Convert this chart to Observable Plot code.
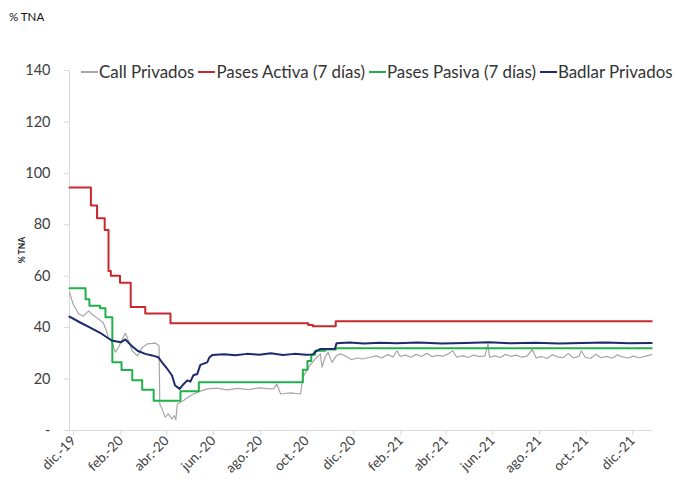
<!DOCTYPE html>
<html>
<head>
<meta charset="utf-8">
<script src="https://cdn.jsdelivr.net/npm/d3@7"></script>
<script src="https://cdn.jsdelivr.net/npm/@observablehq/plot@0.6"></script>
<style>
  html, body { margin: 0; padding: 0; background: #fff; }
  #wrap { position: relative; width: 677px; height: 491px; overflow: hidden; font-family: Lato, "Open Sans", sans-serif; }
  #unit { position: absolute; left: 9px; top: 10px; font-size: 11.5px; color: #111; }
  #ylab { position: absolute; left: 22px; top: 250px; font-size: 8.5px; font-weight: bold; color: #222; transform: translate(-50%, -50%) rotate(-90deg); white-space: nowrap; }
  #legend { position: absolute; left: 81px; top: 61px; display: flex; align-items: center; font-size: 16.9px; color: #333; white-space: nowrap; }
  #legend .item { display: flex; align-items: center; margin-right: 4px; }
  #legend .sw { display: inline-block; width: 17px; height: 0; margin-right: 1px; }
  #chart { position: absolute; left: 0; top: 0; }
</style>
</head>
<body>
<div id="wrap">
  <div id="chart"></div>
  <div id="unit">% TNA</div>
  <div id="ylab">% TNA</div>
  <div id="legend"></div>
</div>
<script>
// ---- Data ----
const seriesNames = ["Call Privados", "Pases Activa (7 días)", "Pases Pasiva (7 días)", "Badlar Privados"];
const seriesColors = ["#a6a6a6", "#c8282e", "#22b04b", "#1c2a6e"];

const callDates = ["2019-12-01","2019-12-06","2019-12-13","2019-12-19","2019-12-26","2019-12-31","2020-01-05","2020-01-14","2020-01-18","2020-01-21","2020-01-24","2020-01-30","2020-02-03","2020-02-08","2020-02-12","2020-02-16","2020-02-21","2020-02-28","2020-03-05","2020-03-12","2020-03-22","2020-03-27","2020-03-28","2020-03-31","2020-04-04","2020-04-08","2020-04-13","2020-04-16","2020-04-18","2020-04-20","2020-04-28","2020-05-04","2020-05-11","2020-05-20","2020-05-29","2020-06-10","2020-06-24","2020-07-08","2020-07-22","2020-08-05","2020-08-20","2020-08-24","2020-08-28","2020-09-02","2020-09-15","2020-09-28","2020-10-01","2020-10-06","2020-10-10","2020-10-17","2020-10-24","2020-10-26","2020-10-30","2020-11-03","2020-11-08","2020-11-14","2020-11-19","2020-11-27","2020-12-04","2020-12-11","2020-12-18","2020-12-28","2021-01-05","2021-01-12","2021-01-20","2021-01-27","2021-02-01","2021-02-05","2021-02-12","2021-02-19","2021-02-26","2021-03-05","2021-03-12","2021-03-19","2021-03-26","2021-04-02","2021-04-09","2021-04-15","2021-04-20","2021-04-28","2021-05-05","2021-05-12","2021-05-20","2021-05-27","2021-05-31","2021-06-02","2021-06-09","2021-06-16","2021-06-23","2021-06-30","2021-07-07","2021-07-14","2021-07-21","2021-07-28","2021-08-02","2021-08-09","2021-08-16","2021-08-23","2021-08-30","2021-09-06","2021-09-13","2021-09-20","2021-09-27","2021-09-30","2021-10-05","2021-10-12","2021-10-19","2021-10-26","2021-11-02","2021-11-09","2021-11-16","2021-11-23","2021-11-30","2021-12-07","2021-12-14","2021-12-21","2021-12-28","2021-12-31"];
const callValues = [53.7,49,45.3,44.5,46.5,45,44,42,39,36,35.4,30.5,32.3,35.6,37.8,35,31,29,32.3,33.7,34,33,10.3,8.4,5.2,6.5,4.5,5.8,4.2,10.3,11.7,12.9,14.2,15.3,16.2,16.5,15.8,16.4,15.9,16.6,16.2,16.3,18,14.2,14.6,14.2,20.7,23.3,25.2,27.8,29.8,24.6,28.5,30.4,26.5,29.1,29.8,28.8,27.5,28.2,27.8,28.5,29,28.2,29.5,28.6,31,28.8,29.3,28.5,29.6,28.8,30,28.7,29.2,28.9,29.8,31,28.5,29.1,28.4,29.3,28.7,29,33.7,28.5,29,28.4,29.6,28.8,29.3,28.5,28.9,31.5,28.2,28.8,28,29.5,28.6,28.3,30,28.2,28.9,31,28.5,28,29.7,28.3,28.8,28.1,29.4,28.6,28.2,28.9,28.3,28.7,29.3,29.5];

const activaDates = ["2019-12-01","2019-12-29","2020-01-06","2020-01-16","2020-01-21","2020-01-24","2020-02-05","2020-02-19","2020-03-09","2020-04-11","2020-10-08","2020-10-14","2020-11-13","2021-12-31"];
const activaValues = [94.5,87.5,82.5,78,62,60.2,57.5,48,45.5,41.7,41,40.5,42.5,42.5];

const pasivaDates = ["2019-12-01","2019-12-22","2019-12-27","2020-01-10","2020-01-17","2020-01-26","2020-02-07","2020-02-21","2020-03-05","2020-03-20","2020-04-24","2020-05-18","2020-10-01","2020-10-07","2020-10-12","2020-10-17","2020-10-30","2020-11-13","2021-12-31"];
const pasivaValues = [55.3,51,48.5,47.5,44,26.5,23.5,19.5,15.8,11.6,15.3,18.8,23.6,27,29.5,31,31.5,32,32];

const badlarDates = ["2019-12-01","2019-12-15","2019-12-28","2020-01-10","2020-01-25","2020-02-06","2020-02-12","2020-02-20","2020-02-28","2020-03-09","2020-03-18","2020-03-26","2020-03-31","2020-04-06","2020-04-13","2020-04-17","2020-04-23","2020-04-28","2020-05-03","2020-05-07","2020-05-11","2020-05-16","2020-05-20","2020-05-29","2020-06-01","2020-06-05","2020-06-20","2020-07-05","2020-07-20","2020-08-05","2020-08-20","2020-09-05","2020-09-20","2020-10-05","2020-10-14","2020-10-19","2020-10-24","2020-11-12","2020-11-14","2020-12-01","2020-12-20","2021-01-10","2021-02-01","2021-03-01","2021-04-01","2021-05-01","2021-06-01","2021-07-01","2021-08-01","2021-09-01","2021-10-01","2021-11-01","2021-12-01","2021-12-31"];
const badlarValues = [44.3,42,40,38,35,34.3,35.4,33,31,29.8,29.2,28.5,26.5,24.3,21.4,17.5,16.2,18,19.5,19,21.5,22,25.5,26.5,28.5,29.4,29.7,29.3,29.8,29.5,30,29.4,29.8,29.5,29.6,31,31.7,31.8,33.9,34.2,33.8,34.1,33.9,34.2,33.8,34,34.3,33.9,34.1,33.8,34,34.2,33.9,34];

const xTickDates = ["2019-12-01","2020-02-01","2020-04-01","2020-06-01","2020-08-01","2020-10-01","2020-12-01","2021-02-01","2021-04-01","2021-06-01","2021-08-01","2021-10-01","2021-12-01"];
const xTickLabels = ["dic.-19","feb.-20","abr.-20","jun.-20","ago.-20","oct.-20","dic.-20","feb.-21","abr.-21","jun.-21","ago.-21","oct.-21","dic.-21"];
const yTicks = [0, 20, 40, 60, 80, 100, 120, 140];
const xDomain = ["2019-12-01", "2022-01-01"];

// ---- Build tables ----
const rows = (dates, values) => dates.map((d, i) => ({date: new Date(d), value: values[i]}));
const call = rows(callDates, callValues);
const activa = rows(activaDates, activaValues);
const pasiva = rows(pasivaDates, pasivaValues);
const badlar = rows(badlarDates, badlarValues);
const tickMap = new Map(xTickDates.map((d, i) => [+new Date(d), xTickLabels[i]]));

const axisColor = "#d9d9d9";
const chart = Plot.plot({
  width: 677,
  height: 491,
  marginLeft: 69,
  marginRight: 25,
  marginTop: 70,
  marginBottom: 61,
  style: {fontFamily: "Lato, 'Open Sans', sans-serif", background: "transparent", color: "#404040"},
  x: {type: "utc", domain: xDomain.map(d => new Date(d))},
  y: {domain: [0, 140]},
  marks: [
    Plot.ruleX([new Date(xDomain[0])], {stroke: axisColor, strokeWidth: 1}),
    Plot.ruleY([0], {stroke: axisColor, strokeWidth: 1}),
    Plot.axisY({ticks: yTicks, tickSize: 5, tickPadding: 14, stroke: axisColor, fontSize: 14.5,
      tickFormat: d => d === 0 ? "-" : String(d), label: null}),
    Plot.axisX({ticks: xTickDates.map(d => new Date(d)), tickSize: 5, tickPadding: 3, stroke: axisColor,
      fontSize: 13.5, tickRotate: -45, dx: 4, tickFormat: d => tickMap.get(+d), label: null}),
    Plot.lineY(call, {x: "date", y: "value", stroke: seriesColors[0], strokeWidth: 1.2}),
    Plot.lineY(pasiva, {x: "date", y: "value", stroke: seriesColors[2], strokeWidth: 2, curve: "step-after"}),
    Plot.lineY(activa, {x: "date", y: "value", stroke: seriesColors[1], strokeWidth: 2, curve: "step-after"}),
    Plot.lineY(badlar, {x: "date", y: "value", stroke: seriesColors[3], strokeWidth: 2})
  ]
});
document.getElementById("chart").appendChild(chart);

const legend = document.getElementById("legend");
seriesNames.forEach((name, i) => {
  const item = document.createElement("div");
  item.className = "item";
  const sw = document.createElement("span");
  sw.className = "sw";
  sw.style.borderTop = `2px solid ${seriesColors[i]}`;
  const lab = document.createElement("span");
  lab.textContent = name;
  item.appendChild(sw);
  item.appendChild(lab);
  legend.appendChild(item);
});
</script>
</body>
</html>
